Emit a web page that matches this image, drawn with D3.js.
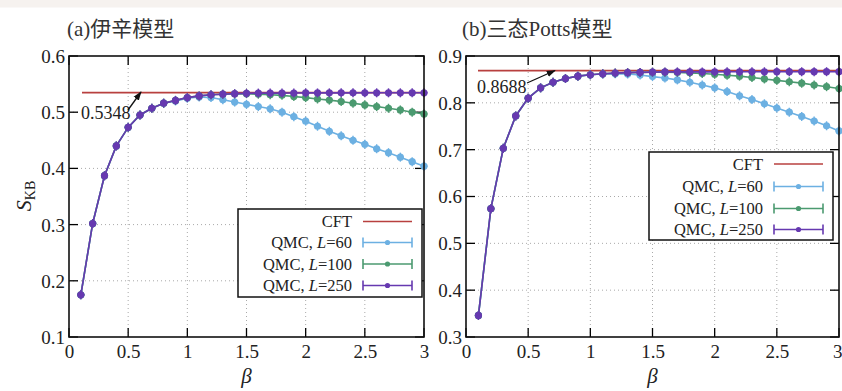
<!DOCTYPE html>
<html><head><meta charset="utf-8">
<script src="https://cdn.jsdelivr.net/npm/d3@7"></script>
<style>body{margin:0;background:#fff}svg{display:block}</style>
</head><body><svg id="c" width="842" height="391"></svg>
<script>
const beta = [0.1,0.2,0.3,0.4,0.5,0.6,0.7,0.8,0.9,1.0,1.1,1.2,1.3,1.4,1.5,1.6,1.7,1.8,1.9,2.0,2.1,2.2,2.3,2.4,2.5,2.6,2.7,2.8,2.9,3.0];
// (a) Ising model
const isingCFT = 0.5348;
const isingL250 = [0.175,0.302,0.387,0.440,0.473,0.495,0.507,0.516,0.521,0.526,0.529,0.531,0.532,0.533,0.5335,0.534,0.534,0.534,0.5342,0.5343,0.5343,0.5344,0.5344,0.5344,0.5345,0.5345,0.5345,0.5345,0.5345,0.5345];
const isingL100 = [0.175,0.302,0.387,0.440,0.473,0.495,0.507,0.516,0.521,0.526,0.529,0.531,0.532,0.5325,0.533,0.532,0.531,0.530,0.528,0.526,0.5235,0.5215,0.519,0.516,0.513,0.510,0.507,0.504,0.500,0.497];
const isingL60 = [0.175,0.302,0.387,0.440,0.473,0.495,0.507,0.516,0.520,0.525,0.527,0.526,0.522,0.518,0.514,0.510,0.506,0.500,0.492,0.484,0.475,0.466,0.458,0.450,0.443,0.435,0.428,0.420,0.412,0.404];
// (b) three-state Potts model
const pottsCFT = 0.8688;
const pottsL250 = [0.346,0.574,0.703,0.772,0.810,0.832,0.844,0.852,0.857,0.860,0.862,0.8635,0.8645,0.865,0.8655,0.866,0.866,0.866,0.866,0.8662,0.8663,0.8663,0.8664,0.8664,0.8665,0.8665,0.8665,0.8665,0.8665,0.8665];
const pottsL100 = [0.346,0.574,0.703,0.772,0.810,0.832,0.844,0.852,0.857,0.860,0.862,0.8635,0.8645,0.865,0.8655,0.8655,0.865,0.864,0.8625,0.861,0.859,0.857,0.854,0.851,0.848,0.845,0.842,0.838,0.8345,0.8305];
const pottsL60 = [0.346,0.574,0.703,0.772,0.810,0.832,0.844,0.852,0.857,0.860,0.8615,0.862,0.8615,0.8595,0.856,0.853,0.849,0.844,0.838,0.832,0.824,0.815,0.807,0.798,0.789,0.780,0.771,0.761,0.751,0.740];
const xTicks = [0,0.5,1,1.5,2,2.5,3];
const xTickLabels = ["0","0.5","1","1.5","2","2.5","3"];
const yTicksA = [0.1,0.2,0.3,0.4,0.5,0.6];
const yTicksB = [0.3,0.4,0.5,0.6,0.7,0.8,0.9];
const legendLabels = ["CFT","QMC, L=60","QMC, L=100","QMC, L=250"];
const titles = ["(a)伊辛模型","(b)三态Potts模型"];

const colors = {cft:"#b8403f", l60:"#6cb0e2", l100:"#4b9a70", l250:"#6639b0"};
const serif = "'Liberation Serif','Times New Roman',serif";
const titleFont = "'Liberation Serif','Noto Sans CJK SC',serif";

const svg = d3.select("#c");
svg.append("rect").attr("x",0).attr("y",0).attr("width",842).attr("height",7.5).attr("fill","#f6f2ef");

const defs = svg.append("defs");
defs.append("marker").attr("id","arr").attr("viewBox","0 0 10 10").attr("refX",9).attr("refY",5)
  .attr("markerWidth",7).attr("markerHeight",7).attr("orient","auto")
  .append("path").attr("d","M0,1.5 L10,5 L0,8.5 Z").attr("fill","#111");

function panel(cfg){
  const x = d3.scaleLinear().domain([0,3]).range([cfg.left,cfg.right]);
  const y = d3.scaleLinear().domain(cfg.ydom).range([337,56]);
  const g = svg.append("g");
  // grid
  xTicks.slice(1,-1).forEach(t=>{
    g.append("line").attr("x1",x(t)).attr("x2",x(t)).attr("y1",y.range()[0]).attr("y2",y.range()[1])
     .attr("stroke","#a9a9a9").attr("stroke-width",1).attr("stroke-dasharray","1,3");
  });
  cfg.yticks.slice(1,-1).forEach(t=>{
    g.append("line").attr("x1",cfg.left).attr("x2",cfg.right).attr("y1",y(t)).attr("y2",y(t))
     .attr("stroke","#a9a9a9").attr("stroke-width",1).attr("stroke-dasharray","1,3");
  });
  // ticks
  xTicks.forEach(t=>{
    g.append("line").attr("x1",x(t)).attr("x2",x(t)).attr("y1",56).attr("y2",65).attr("stroke","#000").attr("stroke-width",1.3);
    g.append("line").attr("x1",x(t)).attr("x2",x(t)).attr("y1",337).attr("y2",328).attr("stroke","#000").attr("stroke-width",1.3);
  });
  cfg.yticks.forEach(t=>{
    g.append("line").attr("x1",cfg.left).attr("x2",cfg.left+9).attr("y1",y(t)).attr("y2",y(t)).attr("stroke","#000").attr("stroke-width",1.3);
    g.append("line").attr("x1",cfg.right).attr("x2",cfg.right-9).attr("y1",y(t)).attr("y2",y(t)).attr("stroke","#000").attr("stroke-width",1.3);
  });
  // tick labels
  const xa = d3.axisBottom(x).tickValues(xTicks).tickFormat((d,i)=>xTickLabels[i]).tickSize(0).tickPadding(0);
  const xg = g.append("g").attr("transform","translate(0,358)").call(xa);
  xg.select(".domain").remove();
  xg.selectAll("text").attr("dy",0).attr("font-family",serif).attr("font-size",19).attr("fill","#222");
  if(cfg.lastXEnd){ xg.selectAll("text").filter((d,i)=>i===xTicks.length-1).attr("text-anchor","end").attr("dx",cfg.lastXEnd); }
  const ya = d3.axisLeft(y).tickValues(cfg.yticks).tickFormat(d3.format(".1f")).tickSize(0).tickPadding(0);
  const yg = g.append("g").attr("transform",`translate(${cfg.left-4},0)`).call(ya);
  yg.select(".domain").remove();
  yg.selectAll("text").attr("dy","0.34em").attr("font-family",serif).attr("font-size",19).attr("fill","#222");

  // CFT line
  g.append("line").attr("x1",cfg.cftX0).attr("x2",cfg.right).attr("y1",y(cfg.cft)).attr("y2",y(cfg.cft))
   .attr("stroke",colors.cft).attr("stroke-width",1.8);

  const line = d3.line().x((d,i)=>x(beta[i])).y(d=>y(d));
  const series = [[cfg.l60,colors.l60],[cfg.l100,colors.l100],[cfg.l250,colors.l250]];
  series.forEach(([vals,col])=>{
    g.append("path").attr("d",line(vals)).attr("fill","none").attr("stroke",col).attr("stroke-width",1.6);
    const pts = g.append("g");
    vals.forEach((v,i)=>{
      pts.append("line").attr("x1",x(beta[i])).attr("x2",x(beta[i])).attr("y1",y(v)-4.5).attr("y2",y(v)+4.5)
        .attr("stroke",col).attr("stroke-width",1.4);
      pts.append("line").attr("x1",x(beta[i])-3.5).attr("x2",x(beta[i])+3.5).attr("y1",y(v)).attr("y2",y(v))
        .attr("stroke",col).attr("stroke-width",1.6);
      pts.append("circle").attr("cx",x(beta[i])).attr("cy",y(v)).attr("r",3.6).attr("fill",col);
    });
  });

  // annotation
  const lab = g.append("text").attr("x",cfg.annX).attr("y",cfg.annY).attr("font-family",serif).attr("font-size",18)
     .attr("fill","#222").text(cfg.cft.toFixed(4));
  const bb = lab.node().getBBox();
  g.insert("rect",()=>lab.node()).attr("x",bb.x).attr("y",bb.y+2).attr("width",bb.width).attr("height",bb.height-4).attr("fill","#fff");
  g.append("line").attr("x1",cfg.arr[0]).attr("y1",cfg.arr[1]).attr("x2",cfg.arr[2]).attr("y2",cfg.arr[3])
   .attr("stroke","#111").attr("stroke-width",1.3).attr("marker-end","url(#arr)");

  // frame
  g.append("rect").attr("x",cfg.left).attr("y",56).attr("width",cfg.right-cfg.left).attr("height",281)
   .attr("fill","none").attr("stroke","#111").attr("stroke-width",1.6);

  // legend
  const L = cfg.leg;
  g.append("rect").attr("x",L.x0).attr("y",L.y0).attr("width",L.x1-L.x0).attr("height",L.y1-L.y0)
   .attr("fill","#fff").attr("stroke","#111").attr("stroke-width",1.5);
  const lcols = [colors.cft,colors.l60,colors.l100,colors.l250];
  legendLabels.forEach((lbl,i)=>{
    const yy = L.ys[i];
    const t = g.append("text").attr("x",L.tx).attr("y",yy+5.5).attr("text-anchor","end")
      .attr("font-family",serif).attr("font-size",16.5).attr("fill","#222");
    if(i===0){ t.text(lbl); }
    else {
      const parts = lbl.split("L=");
      t.append("tspan").text(parts[0]);
      t.append("tspan").attr("font-style","italic").text("L");
      t.append("tspan").text("="+parts[1]);
    }
    g.append("line").attr("x1",L.sx0).attr("x2",L.sx1).attr("y1",yy).attr("y2",yy).attr("stroke",lcols[i]).attr("stroke-width",1.6);
    if(i>0){
      [L.sx0,L.sx1].forEach(xx=>g.append("line").attr("x1",xx).attr("x2",xx).attr("y1",yy-5).attr("y2",yy+5).attr("stroke",lcols[i]).attr("stroke-width",1.6));
      g.append("circle").attr("cx",(L.sx0+L.sx1)/2).attr("cy",yy).attr("r",2.6).attr("fill",lcols[i]);
    }
  });

  // title
  g.append("text").attr("x",cfg.titleX).attr("y",36).attr("font-family",titleFont).attr("font-size",21).attr("fill","#333").text(cfg.title);
  // beta label
  g.append("text").attr("x",(cfg.left+cfg.right)/2).attr("y",383).attr("text-anchor","middle")
   .attr("font-family",serif).attr("font-style","italic").attr("font-size",21).attr("fill","#222").text("β");
}

panel({left:69,right:424,ydom:[0.1,0.6],yticks:yTicksA,cft:isingCFT,cftX0:82,
  l60:isingL60,l100:isingL100,l250:isingL250,annX:81,annY:119,arr:[128,110,141,92],
  leg:{x0:238,x1:422,y0:209,y1:297,ys:[221.5,242.5,264,285.5],tx:352,sx0:363,sx1:412},
  titleX:67,title:titles[0]});
panel({left:466,right:839,ydom:[0.3,0.9],yticks:yTicksB,cft:pottsCFT,cftX0:478,
  l60:pottsL60,l100:pottsL100,l250:pottsL250,annX:477,annY:93,arr:[527,83,555,70.5],
  leg:{x0:649,x1:833,y0:152,y1:240,ys:[164,186.5,208.5,229.5],tx:763,sx0:774,sx1:823},
  titleX:462,title:titles[1],lastXEnd:3});

// y-axis label S_KB
const yl = svg.append("text").attr("transform","translate(31,196) rotate(-90)").attr("text-anchor","middle")
  .attr("font-family",serif).attr("fill","#222");
yl.append("tspan").attr("font-style","italic").attr("font-size",22).text("S");
yl.append("tspan").attr("font-size",14).attr("dy",4).text("KB");
</script></body></html>
